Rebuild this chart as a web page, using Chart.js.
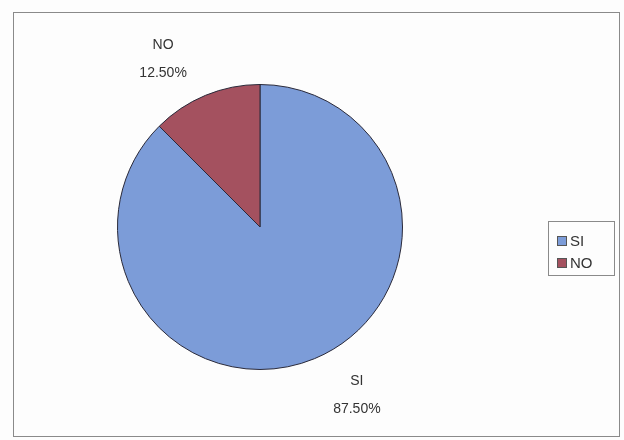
<!DOCTYPE html>
<html>
<head>
<meta charset="utf-8">
<script src="https://cdn.jsdelivr.net/npm/chart.js@4/dist/chart.umd.min.js"></script>
<style>
  html, body { margin: 0; padding: 0; background: #fdfdfd; }
  #wrap { width: 624px; height: 440px; position: relative; }
</style>
</head>
<body>
<div id="wrap"><canvas id="myChart" width="624" height="440"></canvas></div>
<script>
const labels = ['SI', 'NO']
const values = [87.5, 12.5]
const colors = ['#7c9cd8', '#a4515f']

// labels outside the pie, plus the frame and legend box like the excel sheet
const outsideLabels = {
  id: 'outsideLabels',
  beforeDraw(chart) {
    const ctx = chart.ctx
    ctx.save()
    ctx.fillStyle = '#fdfdfd'
    ctx.fillRect(0, 0, chart.width, chart.height)
    ctx.strokeStyle = '#8a8a8a'
    ctx.lineWidth = 1
    ctx.strokeRect(13.5, 12.5, 606, 424)
    ctx.restore()
  },
  afterDraw(chart) {
    const ctx = chart.ctx
    const meta = chart.getDatasetMeta(0)
    const total = values.reduce((a, b) => a + b, 0)
    ctx.save()
    ctx.font = '14px "Liberation Sans", Arial, sans-serif'
    ctx.fillStyle = '#333'
    ctx.textAlign = 'center'
    ctx.textBaseline = 'middle'
    meta.data.forEach((arc, i) => {
      const p = arc.getProps(['x', 'y', 'startAngle', 'endAngle', 'outerRadius'], true)
      const mid = (p.startAngle + p.endAngle) / 2 - 7.5 * Math.PI / 180
      const d = p.outerRadius * 1.36
      const x = p.x + Math.cos(mid) * d
      const y = p.y + Math.sin(mid) * d
      ctx.fillText(labels[i], x, y - 14)
      ctx.fillText((values[i] / total * 100).toFixed(2) + '%', x, y + 14)
    })

    // legend
    ctx.strokeStyle = '#8a8a8a'
    ctx.strokeRect(548.5, 221.5, 66, 54)
    ctx.font = '15px "Liberation Sans", Arial, sans-serif'
    ctx.textAlign = 'left'
    labels.forEach((l, i) => {
      const y = 241 + i * 22
      ctx.fillStyle = colors[i]
      ctx.fillRect(557, y - 5, 10, 10)
      ctx.strokeStyle = '#555'
      ctx.strokeRect(557.5, y - 4.5, 9, 9)
      ctx.fillStyle = '#333'
      ctx.fillText(l, 570, y + 1)
    })
    ctx.restore()
  }
}

const chart = new Chart(
  document.getElementById('myChart'),
  {
    type: 'pie',
    data: {
      labels: labels,
      datasets: [
        {
          data: values,
          backgroundColor: colors,
          borderColor: '#2a2a3a',
          borderWidth: 1
        }
      ]
    },
    options: {
      responsive: false,
      animation: false,
      rotation: 0,
      layout: { padding: { left: 117, right: 221, top: 84, bottom: 70 } },
      plugins: {
        legend: { display: false },
        tooltip: { enabled: false }
      }
    },
    plugins: [outsideLabels]
  }
)
</script>
</body>
</html>
